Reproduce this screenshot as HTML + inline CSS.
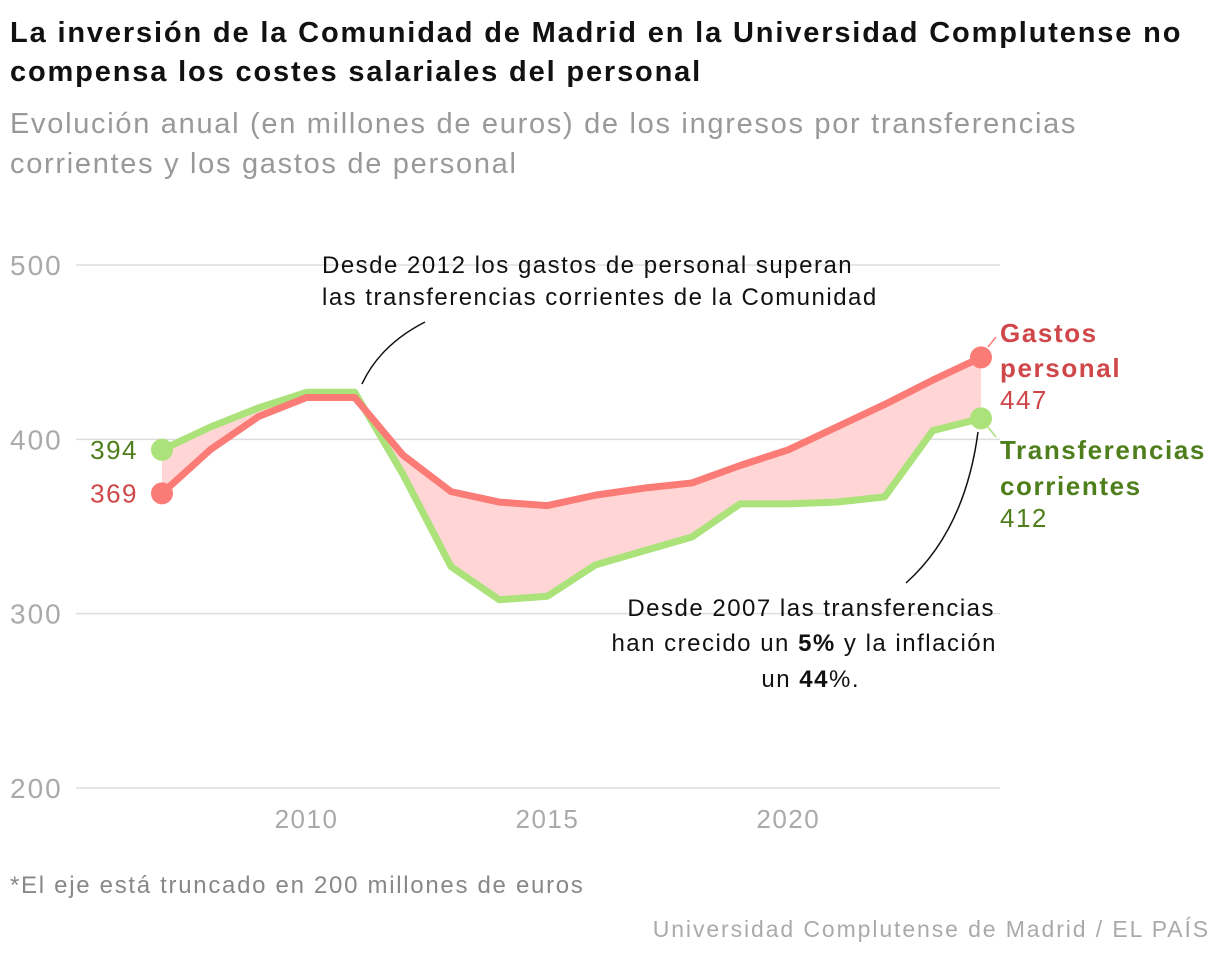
<!DOCTYPE html>
<html><head><meta charset="utf-8"><style>
body{margin:0;background:#fff;width:1220px;height:960px;overflow:hidden;font-family:"Liberation Sans",sans-serif}
h1{position:absolute;left:10px;top:14px;margin:0;font-size:29px;line-height:39px;font-weight:bold;color:#111;width:1215px;letter-spacing:1.85px;white-space:nowrap}
.sub{position:absolute;left:10px;top:104px;font-size:29px;line-height:40px;color:#999;width:1215px;letter-spacing:1.7px;white-space:nowrap}
.note{position:absolute;left:10px;top:872px;font-size:24px;color:#888;letter-spacing:1.7px}
.src{position:absolute;right:10px;top:916px;font-size:23px;color:#aaa;letter-spacing:1.9px}
</style></head><body>
<h1>La inversión de la Comunidad de Madrid en la Universidad Complutense no<br>compensa los costes salariales del personal</h1>
<div class="sub">Evolución anual (en millones de euros) de los ingresos por transferencias<br>corrientes y los gastos de personal</div>
<svg id="c" width="1220" height="960" style="position:absolute;left:0;top:0"></svg>
<div class="note">*El eje está truncado en 200 millones de euros</div>
<div class="src">Universidad Complutense de Madrid / EL PAÍS</div>
<script>
const years=[2007,2008,2009,2010,2011,2012,2013,2014,2015,2016,2017,2018,2019,2020,2021,2022,2023,2024];
const gastos=[369,394,413,424,424,391,370,364,362,368,372,375,385,394,407,420,434,447];
const transf=[394,407,418,427,427,380,327,308,310,328,336,344,363,363,364,367,405,412];
const yTicks=[200,300,400,500];
const xTicks=[2010,2015,2020];
const NS="http://www.w3.org/2000/svg";
const svg=document.getElementById('c');
const X=v=>162+(v-2007)*(981-162)/17;
const Y=v=>788-(v-200)*1.7433;
function el(t,a,p){const e=document.createElementNS(NS,t);for(const k in a)e.setAttribute(k,a[k]);(p||svg).appendChild(e);return e;}
yTicks.forEach(t=>{
 const l=el('line',{x1:76,x2:1000,y1:Y(t),y2:Y(t),stroke:'#ddd','stroke-width':1.5});
 
 
 const tx=el('text',{x:10,y:Y(t)+10,'font-size':28,fill:'#aaa','letter-spacing':2});tx.textContent=t;
 
 
});
xTicks.forEach(t=>{
 const tx=el('text',{x:X(t),y:828,'font-size':26,fill:'#aaa','text-anchor':'middle','letter-spacing':1.5});tx.textContent=t;
 
 
});
let d='M'+years.map((y,i)=>X(y)+','+Y(gastos[i])).join('L');
d+='L'+years.slice().reverse().map((y,j)=>{const i=years.length-1-j;return X(y)+','+Y(transf[i]);}).join('L')+'Z';
const area=el('path',{d:d,fill:'#ffd5d5'});


const pts=a=>years.map((y,i)=>X(y)+','+Y(a[i])).join(' ');
const lt=el('polyline',{points:pts(transf),fill:'none',stroke:'#abe27a','stroke-width':7,'stroke-linejoin':'round'});


const lg=el('polyline',{points:pts(gastos),fill:'none',stroke:'#fb7c76','stroke-width':7,'stroke-linejoin':'round'});


[[transf,'#abe27a','transferencias'],[gastos,'#fb7c76','gastos']].forEach(([a,c,n])=>{
 [0,a.length-1].forEach(i=>{const p=el('circle',{cx:X(years[i]),cy:Y(a[i]),r:11,fill:c});
 
 });
});
function txt(x,y,s,o){const t=el('text',Object.assign({x:x,y:y,'font-size':25},o));t.innerHTML=s;return t;}
let t;
t=txt(138,Y(transf[0])+9,transf[0],{fill:'#4f7f1c','text-anchor':'end','font-size':26,'letter-spacing':1.5});
t=txt(138,Y(gastos[0])+9,gastos[0],{fill:'#d0474a','text-anchor':'end','font-size':26,'letter-spacing':1.5});
el('line',{x1:988,y1:347,x2:996,y2:337,stroke:'#fb7c76','stroke-width':1.5});
el('line',{x1:988,y1:427,x2:996,y2:437,stroke:'#abe27a','stroke-width':1.5});
const B={'font-weight':'bold','font-size':26,'letter-spacing':1.6};
t=txt(1000,342,'Gastos',Object.assign({fill:'#d0474a'},B));
txt(1000,377,'personal',Object.assign({fill:'#d0474a'},B));
txt(1000,409,gastos[gastos.length-1],{fill:'#d0474a','font-size':26,'letter-spacing':1.5});
t=txt(1000,459,'Transferencias',Object.assign({fill:'#4f7f1c'},B));
txt(1000,495,'corrientes',Object.assign({fill:'#4f7f1c'},B));
txt(1000,527,transf[transf.length-1],{fill:'#4f7f1c','font-size':26,'letter-spacing':1.5});
const A={fill:'#111','font-size':24,'letter-spacing':1.5};
t=txt(322,273,'Desde 2012 los gastos de personal superan',A);
txt(322,305,'las transferencias corrientes de la Comunidad',A);
el('path',{d:'M362,384 Q380,345 425,322',fill:'none',stroke:'#111','stroke-width':1.5});
const AE=Object.assign({'text-anchor':'end'},A);
t=txt(995,616,'Desde 2007 las transferencias',AE);
txt(997,651,'han crecido un <tspan font-weight="bold">5%</tspan> y la inflación',AE);
txt(860,687,'un <tspan font-weight="bold">44</tspan>%.',AE);
el('path',{d:'M906,583 Q965,530 978,432',fill:'none',stroke:'#111','stroke-width':1.5});
</script>
</body></html>
